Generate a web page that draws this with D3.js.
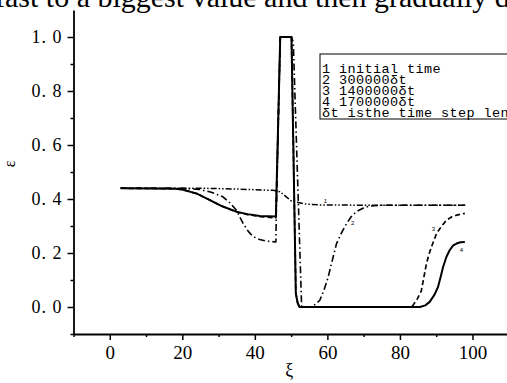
<!DOCTYPE html>
<html>
<head>
<meta charset="utf-8">
<script src="https://cdn.jsdelivr.net/npm/d3@7"></script>
<style>
  body { margin: 0; background: #fff; }
  svg { display: block; }
</style>
</head>
<body>
<div id="vis"></div>
<script>
// datos (xi, epsilon)
const curva1X = [3, 25, 35, 45, 46.9, 48.5, 50.1, 51, 54.2, 58, 70, 98];
const curva1Y = [0.44, 0.44, 0.437, 0.432, 0.427, 0.41, 0.392, 0.39, 0.381, 0.378, 0.377, 0.377];

const curva2X = [3, 20, 24.8, 28, 31.2, 33.2, 34.9, 36.8, 38.2, 39.5, 41.3, 43.2, 45.8, 45.9, 47, 50.1, 50.6, 52.9, 55.2, 56.5, 57.9, 59, 60.2, 61.4, 62.5, 63.9, 65.3, 66.6, 68, 69.8, 71.7, 75, 98];
const curva2Y = [0.44, 0.44, 0.435, 0.425, 0.408, 0.385, 0.358, 0.309, 0.28, 0.261, 0.25, 0.244, 0.241, 0.335, 1.0, 1.0, 0.98, 0, 0, 0.008, 0.025, 0.06, 0.11, 0.175, 0.234, 0.275, 0.309, 0.335, 0.353, 0.366, 0.374, 0.377, 0.377];

const curva3X = [3, 18, 20, 24, 27.6, 31, 34.9, 38, 41.4, 45.8, 47, 50.1, 51.3, 51.8, 52.3, 83, 83.6, 84.8, 85.9, 86.6, 87.3, 88, 88.7, 90.1, 91.5, 92.9, 94.2, 95.6, 97.9];
const curva3Y = [0.44, 0.438, 0.435, 0.42, 0.396, 0.373, 0.352, 0.342, 0.335, 0.33, 1.0, 1.0, 0.05, 0.015, 0, 0, 0.006, 0.03, 0.06, 0.11, 0.16, 0.195, 0.223, 0.272, 0.3, 0.322, 0.333, 0.34, 0.347];

const curva4X = [3, 18, 20, 24, 27.6, 31, 34.9, 38, 41.4, 45.8, 47, 50.1, 51.3, 51.8, 52.3, 85.5, 87, 88.2, 89.5, 90.5, 91.2, 91.9, 92.8, 93.7, 94.6, 95.6, 96.7, 97.9];
const curva4Y = [0.44, 0.438, 0.435, 0.42, 0.396, 0.373, 0.353, 0.344, 0.337, 0.335, 1.0, 1.0, 0.05, 0.015, 0, 0, 0.006, 0.019, 0.045, 0.074, 0.11, 0.148, 0.185, 0.21, 0.227, 0.235, 0.24, 0.241];

const ticksX = [0, 20, 40, 60, 80, 100];
const ticksXmenor = [-10, 10, 30, 50, 70, 90, 110];
const ticksY = [0, 0.2, 0.4, 0.6, 0.8, 1.0];
const ticksYmenor = [-0.1, 0.1, 0.3, 0.5, 0.7, 0.9];

const leyenda = ["1 initial time", "2 300000δt", "3 1400000δt", "4 1700000δt", "δt isthe time step length"];
// etiquetas pequenas junto a las curvas: [numero, xi, epsilon]
const etiquetasCurva = [["1", 59, 0.385], ["2", 66.5, 0.305], ["3", 88.8, 0.28], ["4", 96.5, 0.205]];

const WIDTH = 507;
const HEIGHT = 383;

const SVG = d3.select("#vis").append("svg")
    .attr("width", WIDTH)
    .attr("height", HEIGHT);

const xScale = d3.scaleLinear().domain([-10, 110]).range([73.5, 73.5 + 120 * 3.627]);
const yScale = d3.scaleLinear().domain([-0.1, 1.1]).range([334, 10]);

// texto cortado arriba (viene del documento)
SVG.append("text")
    .text("fast to a biggest value and then gradually decrease")
    .attr("x", -5)
    .attr("y", 6.5)
    .attr("font-family", "Liberation Serif")
    .attr("font-size", 30);

// ejes
const ejeX = SVG.append("g").attr("transform", `translate(0, ${yScale(-0.1)})`);
ejeX.call(d3.axisBottom(xScale).tickValues(ticksX).tickSize(6).tickSizeOuter(0).tickPadding(6));
ejeX.append("g").call(d3.axisBottom(xScale).tickValues(ticksXmenor).tickSize(3).tickFormat(""))
    .select(".domain").remove();

const ejeY = SVG.append("g").attr("transform", `translate(${xScale(-10)}, 0)`);
ejeY.call(d3.axisLeft(yScale).tickValues(ticksY).tickSize(6).tickSizeOuter(0).tickPadding(5)
    .tickFormat(d => d.toFixed(1).replace(".", ". ")));
ejeY.append("g").call(d3.axisLeft(yScale).tickValues(ticksYmenor).tickSize(3).tickFormat(""))
    .select(".domain").remove();

SVG.selectAll(".domain").attr("stroke-width", 1.8);
SVG.selectAll(".tick line").attr("stroke-width", 1.5);
ejeX.selectAll("text")
    .attr("font-family", "Liberation Serif")
    .attr("font-size", 19);
ejeY.selectAll("text")
    .attr("font-family", "Liberation Serif")
    .attr("font-size", 18)
    .attr("letter-spacing", 1);

SVG.append("text")
    .text("ξ")
    .attr("x", xScale(49.5))
    .attr("y", 376)
    .attr("text-anchor", "middle")
    .attr("font-family", "Liberation Serif")
    .attr("font-size", 18);

SVG.append("text")
    .text("ε")
    .attr("transform", "translate(15, 164) rotate(-90)")
    .attr("text-anchor", "middle")
    .attr("font-family", "Liberation Serif")
    .attr("font-size", 16);

// curvas
const series = [
    { xs: curva1X, ys: curva1Y, dash: "6,2,1.5,2,1.5,2", ancho: 1.5 },
    { xs: curva2X, ys: curva2Y, dash: "7,3,1.5,3", ancho: 1.6 },
    { xs: curva3X, ys: curva3Y, dash: "5,3", ancho: 1.7 },
    { xs: curva4X, ys: curva4Y, dash: null, ancho: 2 }
];

const linea = d3.line()
    .x(d => xScale(d[0]))
    .y(d => yScale(d[1]));

SVG.append("g")
    .selectAll("path")
    .data(series)
    .join("path")
    .attr("d", s => linea(s.xs.map((x, i) => [x, s.ys[i]])))
    .attr("fill", "none")
    .attr("stroke", "black")
    .attr("stroke-width", s => s.ancho)
    .attr("stroke-dasharray", s => s.dash)
    .attr("stroke-linejoin", "round");

SVG.append("g")
    .selectAll("text")
    .data(etiquetasCurva)
    .join("text")
    .text(d => d[0])
    .attr("x", d => xScale(d[1]))
    .attr("y", d => yScale(d[2]))
    .attr("font-family", "Liberation Sans")
    .attr("font-size", 6);

// leyenda
const caja = SVG.append("g").attr("transform", "translate(320, 54)");
caja.append("rect")
    .attr("width", 200)
    .attr("height", 65)
    .attr("fill", "white")
    .attr("stroke", "black")
    .attr("stroke-width", 1);

caja.selectAll("text")
    .data(leyenda)
    .join("text")
    .text(d => d)
    .attr("x", 2)
    .attr("y", (d, i) => 19 + i * 11)
    .attr("font-family", "Liberation Mono")
    .attr("font-size", 13.5)
    .attr("letter-spacing", 0.4)
    .attr("xml:space", "preserve");
</script>
</body>
</html>
